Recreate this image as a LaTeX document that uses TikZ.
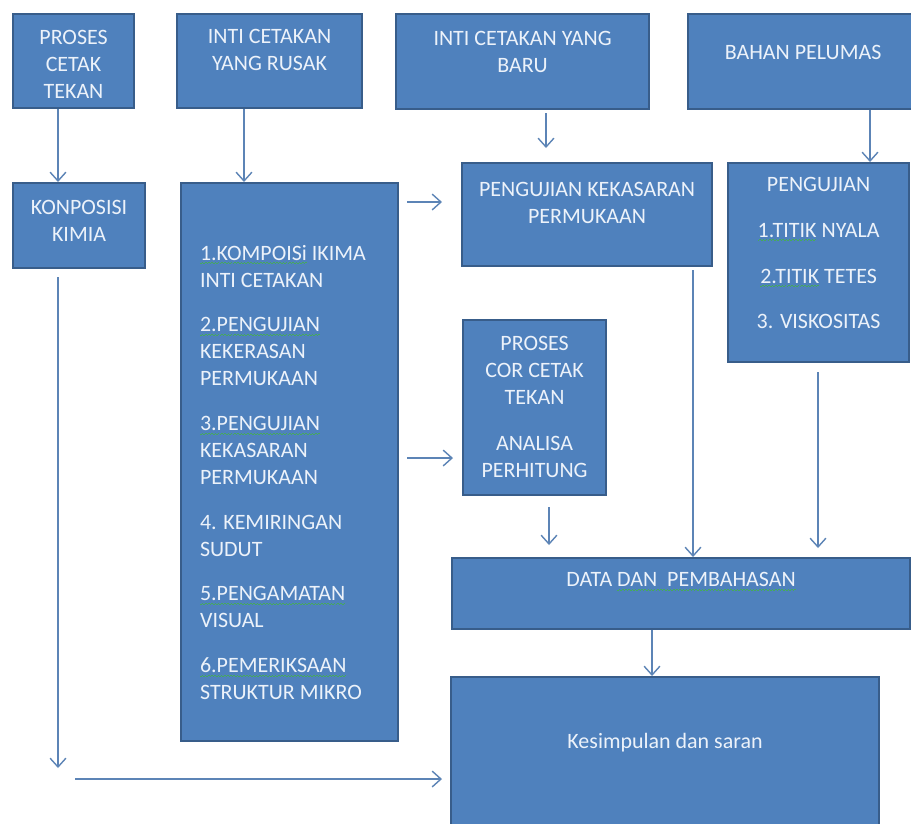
\documentclass[tikz,border=0pt]{standalone}
\usepackage{fontspec}
\setmainfont{Carlito}
\usetikzlibrary{arrows.meta,calc}

\definecolor{boxblue}{RGB}{79,129,189}
\definecolor{boxline}{RGB}{56,93,138}
\definecolor{arrowblue}{RGB}{92,132,182}
\definecolor{boxtext}{RGB}{236,242,250}
\definecolor{checkgreen}{RGB}{70,170,90}

\newlength{\px}
\setlength{\px}{0.02cm}
\newsavebox{\chkbox}
\newcommand{\stagebox}[4]{\parbox[c][#2\px][t]{#1\px}{\vspace*{#3\px}\centering #4}}
\newcommand{\chk}[1]{\sbox{\chkbox}{#1}\leavevmode\rlap{\color{checkgreen}\lower2.4pt\hbox to\wd\chkbox{\xleaders\hbox{\rule{0.9pt}{0.55pt}\raise0.55pt\hbox{\rule{0.9pt}{0.55pt}}}\hfil}}\usebox{\chkbox}}

\tikzset{
	stage/.style={draw=boxline, fill=boxblue, line width=1.2pt, inner sep=0pt, anchor=north west, text=boxtext, font=\fontsize{12.5}{15.3}\selectfont},
	flow/.style={draw=arrowblue, line width=0.8pt, -{Straight Barb[length=5pt,width=9pt]}}
}

\begin{document}
\begin{tikzpicture}[x=0.02cm,y=-0.02cm]
	\clip (0,0) rectangle (911,823);
	\fill[white] (0,0) rectangle (911,823);

	\node[stage] (proses) at (12,13) {\stagebox{121}{94}{16}{PROSES\\CETAK\\TEKAN}};
	\node[stage] (rusak) at (176,13) {\stagebox{185}{94}{15}{INTI CETAKAN\\YANG RUSAK}};
	\node[stage] (baru) at (395,13) {\stagebox{253}{95}{17}{INTI CETAKAN YANG\\BARU}};
	\node[stage] (pelumas) at (687,13) {\stagebox{230}{95}{31}{BAHAN PELUMAS}};
	\node[stage] (kimia) at (12,182) {\stagebox{132}{85}{17}{KONPOSISI\\KIMIA}};
	\node[stage] (daftar) at (180,182) {\stagebox{217}{558}{62}{\raggedright\leftskip=19\px
		\chk{1.KOMPOISi} IKIMA\\INTI CETAKAN\\[18\px]
		\chk{2.PENGUJIAN}\\KEKERASAN\\PERMUKAAN\\[18\px]
		\chk{3.PENGUJIAN}\\KEKASARAN\\PERMUKAAN\\[18\px]
		4. KEMIRINGAN\\SUDUT\\[18\px]
		\chk{5.PENGAMATAN}\\VISUAL\\[18\px]
		\chk{6.PEMERIKSAAN}\\STRUKTUR MIKRO}};
	\node[stage] (kasar) at (461,162) {\stagebox{250}{103}{19}{PENGUJIAN KEKASARAN\\PERMUKAAN}};
	\node[stage] (titik) at (727,162) {\stagebox{181}{199}{14}{PENGUJIAN\\[19\px]\chk{1.TITIK} NYALA\\[19\px]\chk{2.TITIK} TETES\\[19\px]3. VISKOSITAS}};
	\node[stage] (cor) at (462,319) {\stagebox{143}{175}{16}{PROSES\\COR CETAK\\TEKAN\\[20\px]ANALISA\\PERHITUNG}};
	\node[stage] (data) at (451,557) {\stagebox{458}{71}{14}{DATA \chk{DAN~~PEMBAHASAN}}};
	\node[stage] (simpulan) at (450,676) {\stagebox{428}{170}{56}{Kesimpulan dan saran}};

	\coordinate (ujung) at (58,768);
	\coordinate (pangkal) at (75,779);

	\draw[flow] ($(proses.south west)+(46,0)$) coordinate (a) -- (a |- kimia.north);
	\draw[flow] ($(rusak.south west)+(68,0)$) coordinate (b) -- (b |- daftar.north);
	\draw[flow] ($(baru.south west)+(151,3)$) -- ($(kasar.north west)+(85,-14)$);
	\draw[flow] ($(pelumas.south west)+(183,0)$) coordinate (c) -- (c |- titik.north);
	\draw[flow] ($(daftar.north east)+(8,20)$) -- ($(kasar.north west)+(-19,40)$);
	\draw[flow] ($(daftar.north east)+(8,276)$) -- ($(cor.north west)+(-9,139)$);
	\draw[flow] ($(cor.south west)+(87,11)$) -- ($(data.north west)+(98,-12)$);
	\draw[flow] ($(kasar.south west)+(232,3)$) coordinate (d) -- (d |- data.north);
	\draw[flow] ($(titik.south west)+(91,9)$) -- ($(data.north west)+(367,-9)$);
	\draw[flow] ($(data.south west)+(201,0)$) coordinate (e) -- (e |- simpulan.north);
	\draw[flow] ($(kimia.south west)+(46,8)$) -- (ujung);
	\draw[flow] (pangkal) -- ($(simpulan.north west)+(-8,103)$);
\end{tikzpicture}
\end{document}
